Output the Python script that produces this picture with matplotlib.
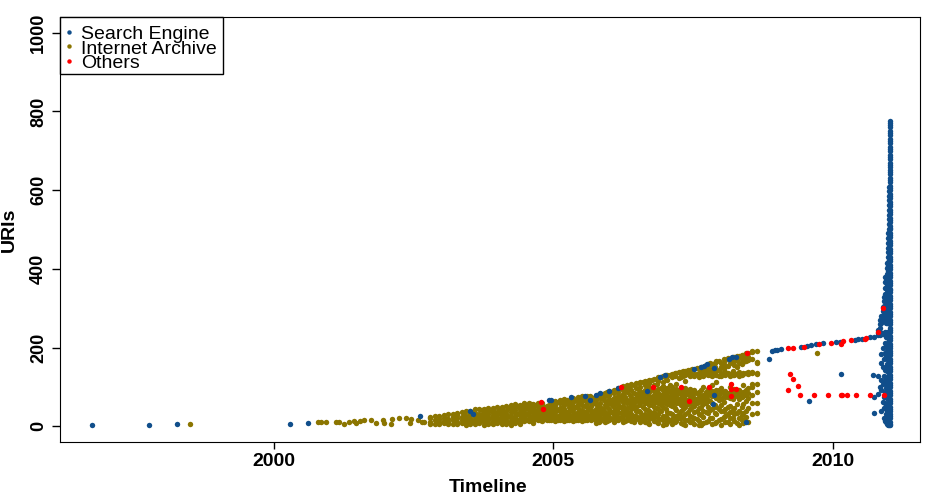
# urls_timeline.py
# first appearance of URIs over time, split by where they were discovered

import matplotlib
matplotlib.use("Agg")
import matplotlib.pyplot as plt
from matplotlib.lines import Line2D
from matplotlib.patches import Rectangle

plt.rcParams["font.family"] = ["Liberation Sans", "DejaVu Sans"]

BLUE = "#104E8B"
GOLD = "#8B7500"
RED = "#FF0000"
DOT = 3.9

# internet archive, one entry per column of dots
ia_years = [1998.50, 2000.79, 2000.85, 2000.93, 2001.12, 2001.16, 2001.26, 2001.34, 2001.43, 2001.47,
            2001.55, 2001.62, 2001.75, 2001.83, 2001.95, 2001.98, 2002.10, 2002.11, 2002.25, 2002.37,
            2002.43, 2002.45, 2002.59, 2002.65, 2002.69, 2002.80, 2002.88, 2002.96, 2003.04, 2003.12,
            2003.20, 2003.28, 2003.36, 2003.44, 2003.52, 2003.60, 2003.68, 2003.76, 2003.84, 2003.92,
            2004.00, 2004.08, 2004.16, 2004.24, 2004.32, 2004.40, 2004.48, 2004.56, 2004.64, 2004.72,
            2004.80, 2004.88, 2004.96, 2005.04, 2005.12, 2005.20, 2005.28, 2005.36, 2005.44, 2005.52,
            2005.60, 2005.68, 2005.76, 2005.84, 2005.92, 2006.00, 2006.08, 2006.16, 2006.24, 2006.32,
            2006.40, 2006.48, 2006.56, 2006.64, 2006.72, 2006.80, 2006.88, 2006.96, 2007.04, 2007.12,
            2007.20, 2007.28, 2007.36, 2007.44, 2007.52, 2007.60, 2007.68, 2007.76, 2007.84, 2007.92,
            2008.00, 2008.08, 2008.16, 2008.24, 2008.32, 2008.40, 2008.48, 2008.56, 2008.64, 2009.72,
            2010.94]
ia_uris = [[6], [10], [10], [11], [11], [10], [6], [10], [14], [8],
           [14], [16], [16], [8], [16], [8], [5], [18], [20], [21],
           [8], [18], [16], [12], [10],
           [5, 12, 20, 24], [7, 15, 26], [5, 10, 18, 25], [8, 14, 22, 28], [5, 12, 19, 30],
           [7, 16, 24, 32], [5, 11, 20, 28, 34], [8, 15, 23, 36], [4, 12, 18, 27, 38], [7, 15, 22, 30, 40],
           [5, 11, 19, 26, 34, 43], [8, 14, 23, 31, 44], [4, 10, 18, 27, 36, 45], [7, 15, 21, 30, 39, 47],
           [5, 12, 19, 25, 33, 42, 46], [8, 14, 22, 29, 37, 48], [5, 11, 18, 26, 35, 43, 50],
           [7, 15, 23, 31, 39, 52], [4, 12, 20, 27, 36, 44, 53], [8, 16, 24, 33, 41, 48, 56],
           [5, 12, 19, 28, 35, 45, 54], [14, 20, 26, 33, 41, 50, 58], [13, 19, 25, 37, 44, 52, 60],
           [9, 15, 21, 28, 35, 47, 56], [15, 22, 29, 40, 50, 58], [13, 19, 25, 33, 54, 60],
           [15, 21, 28, 36, 44, 52], [15, 20, 27, 34, 41, 49, 57], [14, 20, 26, 36, 46, 55, 63],
           [15, 22, 29, 38, 47, 58, 68], [14, 20, 26, 34, 44, 53, 61, 70], [15, 21, 28, 39, 49, 57, 65],
           [14, 20, 27, 35, 43, 52, 62, 72], [15, 22, 29, 37, 47, 56, 66, 74],
           [14, 20, 26, 33, 42, 54, 63, 70, 76], [15, 21, 28, 38, 48, 59, 72, 78],
           [15, 22, 30, 41, 52, 62, 74], [9, 17, 26, 36, 45, 57, 68, 78], [14, 22, 31, 40, 50, 60, 71, 82],
           [11, 19, 27, 37, 54, 64, 76, 85], [16, 24, 34, 44, 58, 69, 80, 90],
           [12, 20, 29, 39, 49, 62, 73, 84, 92], [15, 24, 35, 46, 56, 66, 78, 88, 98],
           [11, 19, 28, 41, 51, 61, 71, 82, 93, 102], [16, 25, 36, 47, 58, 68, 86, 97, 105],
           [13, 21, 31, 43, 53, 75, 91, 108], [18, 27, 38, 49, 63, 72, 82, 96, 110],
           [10, 15, 24, 35, 58, 68, 79, 88, 100, 112], [12, 22, 31, 45, 60, 70, 81, 93, 106, 115],
           [5, 18, 28, 40, 55, 65, 76, 86, 97, 110, 118], [14, 24, 36, 50, 60, 70, 80, 90, 104, 120],
           [8, 20, 32, 44, 58, 66, 74, 84, 94, 116, 124], [3, 15, 26, 48, 62, 72, 82, 92, 102, 112, 128],
           [10, 22, 36, 56, 64, 76, 86, 96, 118, 130], [6, 18, 30, 52, 60, 70, 80, 90, 100, 124, 133],
           [14, 26, 42, 58, 68, 78, 88, 94, 108, 136], [9, 22, 38, 54, 62, 72, 82, 92, 126, 128, 138],
           [4, 16, 30, 50, 60, 70, 80, 90, 98, 116, 130, 141], [12, 26, 44, 58, 66, 76, 86, 94, 128, 136, 144],
           [6, 20, 36, 52, 62, 72, 84, 92, 128, 134], [2, 14, 30, 46, 62, 74, 88, 126, 136, 148],
           [8, 24, 40, 56, 68, 80, 100, 128, 138, 150], [14, 34, 50, 66, 84, 94, 130, 140, 152, 158],
           [6, 22, 44, 60, 76, 90, 104, 128, 136, 146, 158], [12, 30, 48, 72, 82, 92, 112, 130, 140, 165],
           [4, 18, 38, 54, 70, 86, 96, 128, 136, 150, 162], [10, 26, 44, 74, 82, 90, 130, 138, 154, 168],
           [6, 20, 36, 52, 72, 84, 100, 128, 134, 160, 172], [14, 30, 46, 76, 86, 94, 130, 136, 156, 165, 175],
           [4, 22, 40, 70, 82, 92, 128, 138, 162, 178], [8, 16, 34, 56, 78, 88, 104, 132, 136, 164, 172, 180],
           [12, 46, 72, 84, 96, 134, 138, 168, 176, 186], [30, 60, 80, 100, 108, 136, 138, 172, 188, 192],
           [34, 60, 86, 107, 133, 136, 162, 164, 191], [187], [286]]

# internet archive, dots that sit between those columns
ia_fill_years = [2003.08, 2003.25, 2003.41, 2003.57, 2003.73, 2003.90, 2004.05, 2004.20, 2004.37, 2004.52,
                 2004.60, 2004.69, 2004.77, 2004.85, 2004.93, 2005.01, 2005.09, 2005.17, 2005.25, 2005.33,
                 2005.41, 2005.49, 2005.57, 2005.65, 2005.73, 2005.81, 2005.89, 2005.97, 2006.05, 2006.13,
                 2006.21, 2006.29, 2006.37, 2006.45, 2006.53, 2006.61, 2006.69, 2006.77, 2006.85, 2006.93,
                 2007.01, 2007.09, 2007.17, 2007.25, 2007.33, 2007.41, 2007.49, 2007.57, 2007.65, 2007.73,
                 2007.81, 2007.89, 2007.97, 2008.05, 2008.13, 2008.21, 2008.29, 2008.37, 2008.45]
ia_fill_uris = [[18], [12, 27], [22, 33], [10, 37], [17, 29, 41], [9, 24, 38], [18, 33, 44], [11, 27, 46], [16, 31, 51], [17, 30, 47, 55],
                [17, 23, 41, 57], [18, 25, 38, 54], [17, 24, 45, 56], [18, 26, 39, 48], [17, 24, 38, 54], [18, 23, 31, 51, 60], [17, 25, 42, 62], [18, 24, 33, 50, 66], [17, 23, 37, 59, 68], [18, 25, 45, 55, 70],
                [17, 24, 32, 48, 68], [18, 23, 40, 60, 73], [17, 25, 36, 51, 67, 75], [18, 24, 46, 66, 77], [18, 26, 37, 59, 72], [12, 27, 46, 55, 75, 81], [20, 33, 43, 69, 83], [14, 30, 50, 61, 79, 86], [19, 37, 53, 66, 87], [15, 28, 43, 60, 71, 91],
                [22, 33, 48, 66, 77, 97], [14, 30, 41, 63, 75, 92, 100], [20, 34, 50, 64, 79, 102], [12, 27, 46, 60, 70, 85, 106], [22, 38, 54, 66, 76, 92, 109], [17, 29, 50, 63, 75, 86, 112], [8, 26, 42, 60, 72, 83, 102, 114], [20, 33, 55, 66, 74, 94, 117], [12, 28, 46, 63, 78, 88, 108, 121], [18, 38, 54, 68, 80, 98, 125],
                [7, 26, 44, 60, 73, 84, 92, 122, 129], [16, 34, 55, 66, 78, 90, 106, 131], [10, 24, 46, 62, 74, 86, 128, 135], [20, 32, 58, 70, 84, 92, 122, 137], [6, 26, 44, 64, 76, 88, 128, 140], [16, 36, 56, 68, 82, 92, 132, 143], [10, 24, 48, 64, 78, 90, 130, 146], [18, 38, 58, 70, 84, 132, 147], [4, 28, 48, 66, 78, 92, 130, 142, 151], [12, 36, 60, 74, 88, 132, 144, 155],
                [22, 42, 64, 80, 92, 130, 142, 160], [8, 34, 54, 76, 86, 134, 150, 162], [16, 44, 68, 80, 92, 128, 142, 165], [24, 38, 62, 78, 88, 132, 146, 158, 170], [12, 30, 50, 74, 84, 136, 152, 174], [20, 42, 70, 80, 92, 130, 140, 162, 176], [8, 34, 56, 78, 90, 134, 150, 168, 179], [16, 28, 48, 74, 84, 130, 158, 170, 182], [24, 40, 64, 80, 92, 136, 166, 176, 185]]

# search engine, the scattered dots before the spike
se_years = [1996.75, 1997.77, 1998.27, 2000.30, 2000.62, 2002.62, 2003.52, 2003.57, 2004.92, 2004.96,
            2005.32, 2005.57, 2005.66, 2005.77, 2005.84, 2006.00, 2006.16, 2006.68, 2006.91, 2007.00,
            2007.52, 2007.65, 2007.70, 2007.75, 2007.88, 2007.88, 2007.86, 2008.15, 2008.20, 2008.27,
            2008.45, 2008.86, 2008.92, 2008.96, 2009.00, 2009.08, 2009.44, 2009.54, 2009.58, 2009.61,
            2009.70, 2009.83, 2010.06, 2010.13, 2010.15, 2010.40, 2010.46, 2010.52, 2010.67, 2010.72,
            2010.74, 2010.74, 2010.74, 2010.80, 2010.81, 2010.84, 2010.87]
se_uris = [3, 4, 6, 6, 9, 25, 38, 32, 66, 66,
           75, 77, 68, 80, 85, 89, 96, 89, 126, 130,
           145, 150, 154, 157, 149, 79, 57, 170, 175, 177,
           12, 172, 192, 193, 195, 197, 202, 205, 64, 207,
           210, 212, 215, 215, 134, 219, 222, 223, 227, 131,
           227, 74, 34, 128, 83, 101, 183]

# search engine, the spike at the end, one entry per column of dots
spike_years = [2010.81, 2010.85, 2010.87, 2010.89, 2010.92, 2010.94, 2010.95, 2010.97, 2010.99, 2011.01, 2011.02, 2011.03]
spike_uris = [[232, 238, 245],
              [232, 240, 250, 260, 270],
              [38, 92, 118, 160, 236, 262, 280],
              [62, 108, 150, 198, 234, 268, 280, 292, 303],
              [22, 46, 74, 128, 172, 238, 270, 282, 294, 306, 318, 329],
              [14, 58, 88, 114, 142, 186, 212, 240, 276, 290, 304, 320, 336, 352, 366, 380],
              [10, 30, 52, 78, 96, 122, 150, 178, 204, 226, 262, 280, 298, 316, 334, 352, 370, 380],
              [6, 20, 38, 56, 72, 90, 106, 124, 140, 158, 174, 192, 208, 226, 240, 262, 276, 290, 304, 318,
               332, 346, 360, 374, 388, 402, 415],
              [4, 14, 28, 42, 56, 70, 84, 98, 112, 126, 140, 154, 168, 182, 196, 210, 224, 236, 262, 274,
               286, 298, 310, 322, 334, 346, 358, 370, 382, 394, 406, 418, 430, 442, 454, 466, 478, 491],
              [3, 12, 24, 36, 48, 60, 72, 84, 96, 108, 120, 132, 144, 156, 168, 180, 192, 204, 216, 228,
               240, 262, 274, 286, 298, 310, 322, 334, 346, 358, 370, 382, 394, 406, 418, 430, 442, 454, 466, 478,
               490, 502, 514, 526, 538, 550, 562, 574, 586, 598, 608],
              [5, 25, 45, 65, 85, 105, 125, 145, 165, 185, 205, 225, 245, 265, 285, 305, 325, 345, 365, 385,
               405, 425, 445, 465, 485, 505, 525, 545, 565, 585, 605, 625, 645, 665, 685, 705, 725, 745, 765],
              [2, 10, 20, 30, 40, 50, 60, 70, 80, 90, 100, 110, 120, 130, 140, 150, 160, 170, 180, 190,
               200, 210, 220, 230, 240, 250, 260, 270, 280, 290, 300, 310, 320, 330, 340, 350, 360, 370, 380, 390,
               400, 410, 420, 430, 440, 450, 460, 470, 480, 490, 500, 510, 520, 530, 540, 550, 560, 570, 580, 590,
               600, 610, 620, 630, 640, 650, 660, 670, 680, 690, 700, 710, 720, 730, 740, 750, 760, 770, 776]]

# others
other_years = [2004.79, 2004.81, 2006.22, 2006.78, 2007.29, 2007.43, 2007.79, 2008.18, 2008.18, 2008.27,
               2008.18, 2008.46, 2009.20, 2009.29, 2009.49, 2009.76, 2009.97, 2010.15, 2010.19, 2010.33,
               2010.58, 2010.60, 2010.80, 2010.90, 2009.24, 2009.29, 2009.38, 2009.20, 2009.42, 2009.67,
               2009.92, 2010.15, 2010.17, 2010.26, 2010.42, 2010.67, 2010.92]
other_uris = [62, 45, 99, 100, 99, 64, 99, 108, 94, 94,
              78, 187, 199, 200, 202, 209, 212, 210, 216, 218,
              223, 225, 239, 301, 134, 119, 103, 92, 79, 79,
              79, 79, 79, 79, 79, 79, 79]

x_ticks = [2000, 2005, 2010]
y_ticks = [0, 200, 400, 600, 800, 1000]
legend_labels = ["Search Engine", "Internet Archive", "Others"]


def flatten(years, uris):
    xs = []
    ys = []
    for year, values in zip(years, uris):
        for v in values:
            xs.append(year)
            ys.append(v)
    return xs, ys


fig = plt.figure(figsize=(9.5, 5), dpi=100)
ax = fig.add_axes([59.5 / 950, 1 - 442 / 500, (920 - 59.5) / 950, (442 - 17) / 500])

ia_x, ia_y = flatten(ia_years, ia_uris)
fill_x, fill_y = flatten(ia_fill_years, ia_fill_uris)
spike_x, spike_y = flatten(spike_years, spike_uris)

ax.plot(ia_x, ia_y, "o", color=GOLD, ms=DOT, mew=0)
ax.plot(fill_x, fill_y, "o", color=GOLD, ms=DOT, mew=0)
ax.plot(se_years, se_uris, "o", color=BLUE, ms=DOT, mew=0)
ax.plot(spike_x, spike_y, "o", color=BLUE, ms=DOT, mew=0)
ax.plot(other_years, other_uris, "o", color=RED, ms=DOT, mew=0)

ax.set_xlim(1996.17, 2011.56)
ax.set_ylim(-40, 1040)
ax.set_xticks(x_ticks)
ax.set_yticks(y_ticks)
ax.tick_params(axis="x", length=5, width=1, pad=3, labelsize=14)
ax.tick_params(axis="y", length=6, width=1, pad=3, labelsize=13)
for lab in ax.get_xticklabels():
    lab.set_fontweight("bold")
for lab in ax.get_yticklabels():
    lab.set_fontweight("bold")
    lab.set_rotation(90)
    lab.set_verticalalignment("center")

fig.text(488 / 950, 1 - 487 / 500, "Timeline", fontsize=14, fontweight="bold", ha="center", va="center")
fig.text(9 / 950, 1 - 230 / 500, "URIs", fontsize=14, fontweight="bold", rotation=90, ha="center", va="center")

# legend box is laid out by hand, the rows in the original sit closer than ax.legend allows
fig.add_artist(Rectangle((59.5 / 950, 1 - 74 / 500), (223 - 59.5) / 950, (74 - 17) / 500,
                         transform=fig.transFigure, facecolor="white", edgecolor="black", linewidth=1))
row_marks = [32, 46, 61]
row_base = [39, 54, 68]
for c, label, my, by in zip([BLUE, GOLD, RED], legend_labels, row_marks, row_base):
    fig.add_artist(Line2D([69 / 950], [1 - my / 500], transform=fig.transFigure, linestyle="none",
                          marker="o", color=c, ms=3.2, mew=0))
    fig.text(81 / 950, 1 - by / 500, label, fontsize=14, ha="left", va="baseline")

fig.savefig("out.png", dpi=100)
